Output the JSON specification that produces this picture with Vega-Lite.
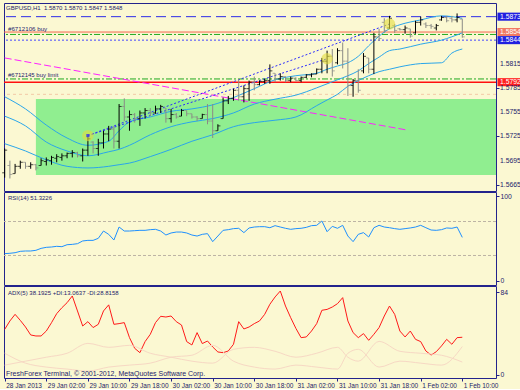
{
"$schema": "https://vega.github.io/schema/vega-lite/v6.json",
"background": "#fbf8d2",
"padding": {"left": 1, "top": 2, "right": 0, "bottom": 0},
"spacing": 1,
"bounds": "flush",
"datasets": {
"one": [{}],
"bars": [
{"t":"2013-01-28T18:00","o":1.5680,"h":1.5710,"l":1.5674,"c":1.5708,"rsi":32.2,"adx":46.2},
{"t":"2013-01-28T19:00","o":1.5689,"h":1.5695,"l":1.5673,"c":1.5678,"rsi":32.6,"adx":54.7},
{"t":"2013-01-28T20:00","o":1.5679,"h":1.5691,"l":1.5679,"c":1.5688,"rsi":33.3,"adx":61.4},
{"t":"2013-01-28T21:00","o":1.5688,"h":1.5695,"l":1.5685,"c":1.5693,"rsi":34.9,"adx":55.3},
{"t":"2013-01-28T22:00","o":1.5693,"h":1.5693,"l":1.5685,"c":1.5688,"rsi":35.3,"adx":48.6},
{"t":"2013-01-28T23:00","o":1.5688,"h":1.5693,"l":1.5685,"c":1.5690,"rsi":35.3,"adx":40.5},
{"t":"2013-01-29T00:00","o":1.5690,"h":1.5691,"l":1.5683,"c":1.5686,"rsi":36.1,"adx":39.5},
{"t":"2013-01-29T01:00","o":1.5689,"h":1.5698,"l":1.5689,"c":1.5695,"rsi":38.4,"adx":39.5},
{"t":"2013-01-29T02:00","o":1.5694,"h":1.5699,"l":1.5689,"c":1.5696,"rsi":39.6,"adx":44.5},
{"t":"2013-01-29T03:00","o":1.5695,"h":1.5701,"l":1.5690,"c":1.5699,"rsi":40.0,"adx":52.9},
{"t":"2013-01-29T04:00","o":1.5698,"h":1.5703,"l":1.5693,"c":1.5700,"rsi":40.8,"adx":62.1},
{"t":"2013-01-29T05:00","o":1.5699,"h":1.5704,"l":1.5695,"c":1.5701,"rsi":40.4,"adx":68.1},
{"t":"2013-01-29T06:00","o":1.5701,"h":1.5705,"l":1.5698,"c":1.5704,"rsi":42.7,"adx":73.2},
{"t":"2013-01-29T07:00","o":1.5704,"h":1.5708,"l":1.5699,"c":1.5705,"rsi":43.1,"adx":80.0},
{"t":"2013-01-29T08:00","o":1.5705,"h":1.5706,"l":1.5699,"c":1.5701,"rsi":43.9,"adx":64.8},
{"t":"2013-01-29T09:00","o":1.5701,"h":1.5710,"l":1.5694,"c":1.5708,"rsi":47.1,"adx":49.6},
{"t":"2013-01-29T10:00","o":1.5708,"h":1.5725,"l":1.5701,"c":1.5722,"rsi":47.8,"adx":54.0},
{"t":"2013-01-29T11:00","o":1.5718,"h":1.5719,"l":1.5704,"c":1.5710,"rsi":47.8,"adx":48.0},
{"t":"2013-01-29T12:00","o":1.5710,"h":1.5722,"l":1.5701,"c":1.5717,"rsi":50.2,"adx":51.3},
{"t":"2013-01-29T13:00","o":1.5717,"h":1.5732,"l":1.5710,"c":1.5728,"rsi":58.8,"adx":64.8},
{"t":"2013-01-29T14:00","o":1.5728,"h":1.5738,"l":1.5719,"c":1.5734,"rsi":54.9,"adx":71.0},
{"t":"2013-01-29T15:00","o":1.5734,"h":1.5738,"l":1.5710,"c":1.5719,"rsi":48.2,"adx":51.3},
{"t":"2013-01-29T16:00","o":1.5719,"h":1.5765,"l":1.5710,"c":1.5762,"rsi":63.5,"adx":52.0},
{"t":"2013-01-29T17:00","o":1.5762,"h":1.5772,"l":1.5744,"c":1.5749,"rsi":58.8,"adx":53.0},
{"t":"2013-01-29T18:00","o":1.5749,"h":1.5757,"l":1.5732,"c":1.5752,"rsi":58.8,"adx":37.8},
{"t":"2013-01-29T19:00","o":1.5752,"h":1.5754,"l":1.5742,"c":1.5747,"rsi":59.2,"adx":27.0},
{"t":"2013-01-29T20:00","o":1.5747,"h":1.5757,"l":1.5738,"c":1.5754,"rsi":59.6,"adx":22.6},
{"t":"2013-01-29T21:00","o":1.5754,"h":1.5760,"l":1.5747,"c":1.5757,"rsi":59.6,"adx":33.8},
{"t":"2013-01-29T22:00","o":1.5757,"h":1.5760,"l":1.5750,"c":1.5754,"rsi":60.4,"adx":41.2},
{"t":"2013-01-29T23:00","o":1.5754,"h":1.5763,"l":1.5753,"c":1.5759,"rsi":60.8,"adx":53.0},
{"t":"2013-01-30T00:00","o":1.5759,"h":1.5764,"l":1.5754,"c":1.5762,"rsi":58.8,"adx":59.4},
{"t":"2013-01-30T01:00","o":1.5760,"h":1.5760,"l":1.5742,"c":1.5747,"rsi":54.1,"adx":58.7},
{"t":"2013-01-30T02:00","o":1.5747,"h":1.5759,"l":1.5742,"c":1.5752,"rsi":56.5,"adx":59.7},
{"t":"2013-01-30T03:00","o":1.5752,"h":1.5754,"l":1.5747,"c":1.5749,"rsi":57.6,"adx":54.0},
{"t":"2013-01-30T04:00","o":1.5750,"h":1.5759,"l":1.5750,"c":1.5757,"rsi":57.6,"adx":50.6},
{"t":"2013-01-30T05:00","o":1.5757,"h":1.5757,"l":1.5750,"c":1.5753,"rsi":56.5,"adx":33.8},
{"t":"2013-01-30T06:00","o":1.5753,"h":1.5753,"l":1.5747,"c":1.5749,"rsi":54.1,"adx":30.4},
{"t":"2013-01-30T07:00","o":1.5749,"h":1.5750,"l":1.5744,"c":1.5747,"rsi":52.9,"adx":42.9},
{"t":"2013-01-30T08:00","o":1.5747,"h":1.5753,"l":1.5747,"c":1.5752,"rsi":54.9,"adx":31.8},
{"t":"2013-01-30T09:00","o":1.5752,"h":1.5765,"l":1.5740,"c":1.5744,"rsi":55.7,"adx":34.4},
{"t":"2013-01-30T10:00","o":1.5744,"h":1.5765,"l":1.5723,"c":1.5732,"rsi":46.3,"adx":28.4},
{"t":"2013-01-30T11:00","o":1.5732,"h":1.5740,"l":1.5732,"c":1.5738,"rsi":52.9,"adx":23.3},
{"t":"2013-01-30T12:00","o":1.5747,"h":1.5773,"l":1.5747,"c":1.5769,"rsi":59.6,"adx":22.6},
{"t":"2013-01-30T13:00","o":1.5769,"h":1.5775,"l":1.5765,"c":1.5772,"rsi":60.4,"adx":24.3},
{"t":"2013-01-30T14:00","o":1.5772,"h":1.5784,"l":1.5769,"c":1.5782,"rsi":61.6,"adx":31.1},
{"t":"2013-01-30T15:00","o":1.5782,"h":1.5796,"l":1.5769,"c":1.5774,"rsi":62.0,"adx":54.0},
{"t":"2013-01-30T16:00","o":1.5774,"h":1.5788,"l":1.5767,"c":1.5784,"rsi":56.9,"adx":46.6},
{"t":"2013-01-30T17:00","o":1.5784,"h":1.5794,"l":1.5769,"c":1.5792,"rsi":62.4,"adx":48.6},
{"t":"2013-01-30T18:00","o":1.5792,"h":1.5799,"l":1.5782,"c":1.5789,"rsi":63.5,"adx":52.0},
{"t":"2013-01-30T19:00","o":1.5789,"h":1.5794,"l":1.5788,"c":1.5793,"rsi":63.9,"adx":54.7},
{"t":"2013-01-30T20:00","o":1.5793,"h":1.5796,"l":1.5790,"c":1.5794,"rsi":63.9,"adx":61.4},
{"t":"2013-01-30T21:00","o":1.5794,"h":1.5814,"l":1.5790,"c":1.5806,"rsi":62.7,"adx":71.6},
{"t":"2013-01-30T22:00","o":1.5803,"h":1.5803,"l":1.5792,"c":1.5796,"rsi":65.1,"adx":79.0},
{"t":"2013-01-30T23:00","o":1.5796,"h":1.5803,"l":1.5794,"c":1.5799,"rsi":63.5,"adx":85.0},
{"t":"2013-01-31T00:00","o":1.5799,"h":1.5799,"l":1.5792,"c":1.5794,"rsi":62.0,"adx":69.8},
{"t":"2013-01-31T01:00","o":1.5794,"h":1.5799,"l":1.5792,"c":1.5797,"rsi":60.8,"adx":58.0},
{"t":"2013-01-31T02:00","o":1.5797,"h":1.5798,"l":1.5793,"c":1.5794,"rsi":61.6,"adx":47.2},
{"t":"2013-01-31T03:00","o":1.5794,"h":1.5799,"l":1.5792,"c":1.5798,"rsi":62.0,"adx":37.8},
{"t":"2013-01-31T04:00","o":1.5798,"h":1.5802,"l":1.5797,"c":1.5801,"rsi":63.1,"adx":38.5},
{"t":"2013-01-31T05:00","o":1.5801,"h":1.5803,"l":1.5798,"c":1.5802,"rsi":65.1,"adx":44.5},
{"t":"2013-01-31T06:00","o":1.5802,"h":1.5809,"l":1.5802,"c":1.5808,"rsi":65.5,"adx":52.0},
{"t":"2013-01-31T07:00","o":1.5808,"h":1.5822,"l":1.5803,"c":1.5818,"rsi":70.6,"adx":65.5},
{"t":"2013-01-31T08:00","o":1.5818,"h":1.5831,"l":1.5803,"c":1.5824,"rsi":58.0,"adx":66.4},
{"t":"2013-01-31T09:00","o":1.5824,"h":1.5833,"l":1.5799,"c":1.5806,"rsi":64.3,"adx":68.8},
{"t":"2013-01-31T10:00","o":1.5816,"h":1.5834,"l":1.5814,"c":1.5831,"rsi":62.0,"adx":72.2},
{"t":"2013-01-31T11:00","o":1.5831,"h":1.5841,"l":1.5809,"c":1.5818,"rsi":65.5,"adx":78.3},
{"t":"2013-01-31T12:00","o":1.5818,"h":1.5834,"l":1.5775,"c":1.5788,"rsi":52.9,"adx":54.7},
{"t":"2013-01-31T13:00","o":1.5788,"h":1.5796,"l":1.5774,"c":1.5794,"rsi":46.3,"adx":42.9},
{"t":"2013-01-31T14:00","o":1.5794,"h":1.5808,"l":1.5779,"c":1.5782,"rsi":54.9,"adx":37.8},
{"t":"2013-01-31T15:00","o":1.5806,"h":1.5828,"l":1.5803,"c":1.5824,"rsi":56.9,"adx":41.9},
{"t":"2013-01-31T16:00","o":1.5822,"h":1.5822,"l":1.5803,"c":1.5808,"rsi":51.8,"adx":35.1},
{"t":"2013-01-31T17:00","o":1.5808,"h":1.5853,"l":1.5802,"c":1.5848,"rsi":62.7,"adx":41.2},
{"t":"2013-01-31T18:00","o":1.5848,"h":1.5858,"l":1.5843,"c":1.5846,"rsi":65.5,"adx":48.0},
{"t":"2013-01-31T19:00","o":1.5866,"h":1.5871,"l":1.5853,"c":1.5856,"rsi":63.5,"adx":59.7},
{"t":"2013-01-31T20:00","o":1.5859,"h":1.5874,"l":1.5858,"c":1.5871,"rsi":62.7,"adx":69.8},
{"t":"2013-01-31T21:00","o":1.5862,"h":1.5864,"l":1.5853,"c":1.5856,"rsi":61.6,"adx":61.4},
{"t":"2013-01-31T22:00","o":1.5858,"h":1.5859,"l":1.5856,"c":1.5857,"rsi":60.8,"adx":44.5},
{"t":"2013-01-31T23:00","o":1.5857,"h":1.5862,"l":1.5852,"c":1.5859,"rsi":61.6,"adx":38.5},
{"t":"2013-02-01T00:00","o":1.5858,"h":1.5858,"l":1.5847,"c":1.5849,"rsi":62.4,"adx":44.5},
{"t":"2013-02-01T01:00","o":1.5853,"h":1.5868,"l":1.5852,"c":1.5866,"rsi":63.5,"adx":36.1},
{"t":"2013-02-01T02:00","o":1.5866,"h":1.5873,"l":1.5862,"c":1.5869,"rsi":65.5,"adx":33.8},
{"t":"2013-02-01T03:00","o":1.5864,"h":1.5866,"l":1.5859,"c":1.5862,"rsi":62.7,"adx":24.3},
{"t":"2013-02-01T04:00","o":1.5862,"h":1.5864,"l":1.5858,"c":1.5861,"rsi":60.0,"adx":20.2},
{"t":"2013-02-01T05:00","o":1.5859,"h":1.5864,"l":1.5856,"c":1.5862,"rsi":59.6,"adx":23.6},
{"t":"2013-02-01T06:00","o":1.5869,"h":1.5874,"l":1.5868,"c":1.5872,"rsi":60.4,"adx":29.4},
{"t":"2013-02-01T07:00","o":1.5872,"h":1.5874,"l":1.5866,"c":1.5868,"rsi":62.4,"adx":36.1},
{"t":"2013-02-01T08:00","o":1.5871,"h":1.5874,"l":1.5866,"c":1.5869,"rsi":62.0,"adx":31.1},
{"t":"2013-02-01T09:00","o":1.5869,"h":1.5877,"l":1.5866,"c":1.5872,"rsi":63.5,"adx":37.8},
{"t":"2013-02-01T10:00","o":1.5870,"h":1.5870,"l":1.5847,"c":1.5848,"rsi":51.3226,"adx":38.1925}
],
"bands": [
{"t":"2013-01-28T18:00","b":"u","p":1.5774},{"t":"2013-01-28T22:00","b":"u","p":1.5759},{"t":"2013-01-29T02:00","b":"u","p":1.5739},{"t":"2013-01-29T06:00","b":"u","p":1.5723},{"t":"2013-01-29T10:00","b":"u","p":1.5714},{"t":"2013-01-29T14:00","b":"u","p":1.5719},{"t":"2013-01-29T16:00","b":"u","p":1.5732},{"t":"2013-01-29T18:00","b":"u","p":1.5743},{"t":"2013-01-29T22:00","b":"u","p":1.5749},{"t":"2013-01-30T02:00","b":"u","p":1.5756},{"t":"2013-01-30T06:00","b":"u","p":1.5759},{"t":"2013-01-30T10:00","b":"u","p":1.5764},{"t":"2013-01-30T14:00","b":"u","p":1.5773},{"t":"2013-01-30T18:00","b":"u","p":1.5784},{"t":"2013-01-30T22:00","b":"u","p":1.5795},{"t":"2013-01-31T02:00","b":"u","p":1.5800},{"t":"2013-01-31T06:00","b":"u","p":1.5803},{"t":"2013-01-31T08:00","b":"u","p":1.5808},{"t":"2013-01-31T10:00","b":"u","p":1.5812},{"t":"2013-01-31T12:00","b":"u","p":1.5816},{"t":"2013-01-31T14:00","b":"u","p":1.5824},{"t":"2013-01-31T16:00","b":"u","p":1.5837},{"t":"2013-01-31T18:00","b":"u","p":1.5849},{"t":"2013-01-31T20:00","b":"u","p":1.5858},{"t":"2013-01-31T22:00","b":"u","p":1.5863},{"t":"2013-02-01T02:00","b":"u","p":1.5869},{"t":"2013-02-01T06:00","b":"u","p":1.5874},{"t":"2013-02-01T10:00","b":"u","p":1.5871},
{"t":"2013-01-28T18:00","b":"m","p":1.5750},{"t":"2013-01-28T22:00","b":"m","p":1.5738},{"t":"2013-01-29T02:00","b":"m","p":1.5718},{"t":"2013-01-29T06:00","b":"m","p":1.5707},{"t":"2013-01-29T10:00","b":"m","p":1.5701},{"t":"2013-01-29T14:00","b":"m","p":1.5706},{"t":"2013-01-29T16:00","b":"m","p":1.5709},{"t":"2013-01-29T18:00","b":"m","p":1.5714},{"t":"2013-01-29T22:00","b":"m","p":1.5727},{"t":"2013-01-30T02:00","b":"m","p":1.5737},{"t":"2013-01-30T06:00","b":"m","p":1.5743},{"t":"2013-01-30T10:00","b":"m","p":1.5747},{"t":"2013-01-30T14:00","b":"m","p":1.5754},{"t":"2013-01-30T18:00","b":"m","p":1.5765},{"t":"2013-01-30T22:00","b":"m","p":1.5771},{"t":"2013-01-31T02:00","b":"m","p":1.5776},{"t":"2013-01-31T06:00","b":"m","p":1.5785},{"t":"2013-01-31T08:00","b":"m","p":1.5790},{"t":"2013-01-31T10:00","b":"m","p":1.5795},{"t":"2013-01-31T12:00","b":"m","p":1.5800},{"t":"2013-01-31T14:00","b":"m","p":1.5806},{"t":"2013-01-31T16:00","b":"m","p":1.5815},{"t":"2013-01-31T18:00","b":"m","p":1.5823},{"t":"2013-01-31T20:00","b":"m","p":1.5831},{"t":"2013-01-31T22:00","b":"m","p":1.5833},{"t":"2013-02-01T02:00","b":"m","p":1.5839},{"t":"2013-02-01T06:00","b":"m","p":1.5844},{"t":"2013-02-01T10:00","b":"m","p":1.5853},
{"t":"2013-01-28T18:00","b":"l","p":1.5716},{"t":"2013-01-28T22:00","b":"l","p":1.5707},{"t":"2013-01-29T02:00","b":"l","p":1.5696},{"t":"2013-01-29T06:00","b":"l","p":1.5688},{"t":"2013-01-29T10:00","b":"l","p":1.5686},{"t":"2013-01-29T14:00","b":"l","p":1.5688},{"t":"2013-01-29T16:00","b":"l","p":1.5690},{"t":"2013-01-29T18:00","b":"l","p":1.5692},{"t":"2013-01-29T22:00","b":"l","p":1.5700},{"t":"2013-01-30T02:00","b":"l","p":1.5709},{"t":"2013-01-30T06:00","b":"l","p":1.5719},{"t":"2013-01-30T10:00","b":"l","p":1.5727},{"t":"2013-01-30T14:00","b":"l","p":1.5737},{"t":"2013-01-30T18:00","b":"l","p":1.5742},{"t":"2013-01-30T22:00","b":"l","p":1.5745},{"t":"2013-01-31T02:00","b":"l","p":1.5749},{"t":"2013-01-31T06:00","b":"l","p":1.5763},{"t":"2013-01-31T08:00","b":"l","p":1.5770},{"t":"2013-01-31T10:00","b":"l","p":1.5777},{"t":"2013-01-31T12:00","b":"l","p":1.5787},{"t":"2013-01-31T14:00","b":"l","p":1.5794},{"t":"2013-01-31T16:00","b":"l","p":1.5800},{"t":"2013-01-31T18:00","b":"l","p":1.5805},{"t":"2013-01-31T20:00","b":"l","p":1.5808},{"t":"2013-01-31T22:00","b":"l","p":1.5811},{"t":"2013-02-01T02:00","b":"l","p":1.5815},{"t":"2013-02-01T06:00","b":"l","p":1.5816},{"t":"2013-02-01T08:00","b":"l","p":1.5828},{"t":"2013-02-01T10:00","b":"l","p":1.5833}
],
"di": [
{"t":"2013-01-28T18:00","k":"m","v":22},{"t":"2013-01-28T22:00","k":"m","v":12},{"t":"2013-01-29T02:00","k":"m","v":8},{"t":"2013-01-29T06:00","k":"m","v":6},{"t":"2013-01-29T10:00","k":"m","v":4},{"t":"2013-01-29T14:00","k":"m","v":8},{"t":"2013-01-29T18:00","k":"m","v":10},{"t":"2013-01-29T22:00","k":"m","v":12},{"t":"2013-01-30T02:00","k":"m","v":18},{"t":"2013-01-30T06:00","k":"m","v":20},{"t":"2013-01-30T10:00","k":"m","v":30},{"t":"2013-01-30T14:00","k":"m","v":14},{"t":"2013-01-30T18:00","k":"m","v":8},{"t":"2013-01-30T22:00","k":"m","v":6},{"t":"2013-01-31T02:00","k":"m","v":10},{"t":"2013-01-31T06:00","k":"m","v":8},{"t":"2013-01-31T10:00","k":"m","v":6},{"t":"2013-01-31T12:00","k":"m","v":22},{"t":"2013-01-31T14:00","k":"m","v":26},{"t":"2013-01-31T18:00","k":"m","v":8},{"t":"2013-01-31T22:00","k":"m","v":14},{"t":"2013-02-01T02:00","k":"m","v":12},{"t":"2013-02-01T06:00","k":"m","v":10},{"t":"2013-02-01T10:00","k":"m","v":28.8},
{"t":"2013-01-28T18:00","k":"p","v":10},{"t":"2013-01-28T22:00","k":"p","v":14},{"t":"2013-01-29T02:00","k":"p","v":18},{"t":"2013-01-29T06:00","k":"p","v":22},{"t":"2013-01-29T10:00","k":"p","v":32},{"t":"2013-01-29T14:00","k":"p","v":28},{"t":"2013-01-29T18:00","k":"p","v":30},{"t":"2013-01-29T22:00","k":"p","v":22},{"t":"2013-01-30T02:00","k":"p","v":18},{"t":"2013-01-30T06:00","k":"p","v":14},{"t":"2013-01-30T10:00","k":"p","v":12},{"t":"2013-01-30T14:00","k":"p","v":26},{"t":"2013-01-30T18:00","k":"p","v":28},{"t":"2013-01-30T22:00","k":"p","v":24},{"t":"2013-01-31T02:00","k":"p","v":18},{"t":"2013-01-31T06:00","k":"p","v":22},{"t":"2013-01-31T10:00","k":"p","v":28},{"t":"2013-01-31T12:00","k":"p","v":18},{"t":"2013-01-31T14:00","k":"p","v":14},{"t":"2013-01-31T18:00","k":"p","v":34},{"t":"2013-01-31T22:00","k":"p","v":24},{"t":"2013-02-01T02:00","k":"p","v":22},{"t":"2013-02-01T06:00","k":"p","v":20},{"t":"2013-02-01T10:00","k":"p","v":13.1}
],
"channel": [
{"t":"2013-01-29T10:00","k":"a","p":1.5726},{"t":"2013-01-31T08:00","k":"a","p":1.5821},
{"t":"2013-01-29T10:00","k":"b","p":1.5726},{"t":"2013-01-31T20:00","k":"b","p":1.5864}
],
"markers": [
{"t":"2013-01-29T10:00","p":1.5726},{"t":"2013-01-31T08:00","p":1.5821},{"t":"2013-01-31T20:00","p":1.5864}
],
"trend": [
{"t":"2013-01-28T18:00","p":1.5822},{"t":"2013-01-31T23:15","p":1.5733}
],
"boxes": [
{"lo":1.5868,"hi":1.5878,"k":"b"},{"lo":1.5849,"hi":1.5859,"k":"s"},{"lo":1.5839,"hi":1.5849,"k":"b"},{"lo":1.5787,"hi":1.5797,"k":"r"}
],
"prices": [
{"p":1.5873,"w":1},{"p":1.5854,"w":1},{"p":1.5844,"w":1},{"p":1.5815,"w":0},{"p":1.5792,"w":1},{"p":1.5785,"w":0},{"p":1.5755,"w":0},{"p":1.5725,"w":0},{"p":1.5695,"w":0},{"p":1.5665,"w":0}
]
},
"vconcat": [
{
"width": 492, "height": 188,
"layer": [
{"data": {"values": [{"start":"2013-01-29T00:00","end":"2013-02-01T16:29","lo":1.56773,"hi":1.57713}]},
 "mark": {"type":"rect","color":"#90ee90","clip":true},
 "encoding": {
  "x": {"field":"start","type":"temporal","scale":{"domain":[{"year":2013,"month":1,"date":28,"hours":17,"minutes":52},{"year":2013,"month":2,"date":1,"hours":16,"minutes":29}]},"axis":null},
  "x2": {"field":"end"},
  "y": {"field":"lo","type":"quantitative","scale":{"domain":[1.56575,1.58899],"nice":false,"zero":false},
        "axis":{"orient":"right","title":null,"values":[1.5665,1.5695,1.5725,1.5755,1.5785,1.5815],"labels":false,"tickSize":3,"tickColor":"#23238c","domain":false,"grid":false}},
  "y2": {"field":"hi"}
 }},
{"data": {"name":"one"},
 "mark": {"type":"rule","color":"#f2c9a6","strokeDash":[3,3],"strokeWidth":1},
 "encoding": {"y": {"datum":1.5777,"type":"quantitative","scale":{"domain":[1.56575,1.58899],"nice":false,"zero":false}}}},
{"data": {"name":"one"},
 "mark": {"type":"rule","color":"#2c2ce8","strokeDash":[10,5],"strokeWidth":1},
 "encoding": {"y": {"datum":1.5873,"type":"quantitative","scale":{"domain":[1.56575,1.58899],"nice":false,"zero":false}}}},
{"data": {"name":"one"},
 "mark": {"type":"rule","color":"#22aa22","strokeDash":[6,2,2,2],"strokeWidth":1},
 "encoding": {"y": {"datum":1.5851,"type":"quantitative","scale":{"domain":[1.56575,1.58899],"nice":false,"zero":false}}}},
{"data": {"name":"one"},
 "mark": {"type":"rule","color":"#22aa22","strokeDash":[6,2,2,2],"strokeWidth":1},
 "encoding": {"y": {"datum":1.5796,"type":"quantitative","scale":{"domain":[1.56575,1.58899],"nice":false,"zero":false}}}},
{"data": {"name":"one"},
 "mark": {"type":"rule","color":"#f26650","strokeWidth":1},
 "encoding": {"y": {"datum":1.5854,"type":"quantitative","scale":{"domain":[1.56575,1.58899],"nice":false,"zero":false}}}},
{"data": {"name":"one"},
 "mark": {"type":"rule","color":"#ff1010","strokeWidth":1.5},
 "encoding": {"y": {"datum":1.5792,"type":"quantitative","scale":{"domain":[1.56575,1.58899],"nice":false,"zero":false}}}},
{"data": {"name":"one"},
 "mark": {"type":"rule","color":"#4444ff","strokeDash":[2,2],"strokeWidth":1},
 "encoding": {"y": {"datum":1.5844,"type":"quantitative","scale":{"domain":[1.56575,1.58899],"nice":false,"zero":false}}}},
{"data": {"name":"trend"},
 "mark": {"type":"line","color":"#ff22ff","strokeDash":[7,3],"strokeWidth":1,"clip":true},
 "encoding": {
  "x": {"field":"t","type":"temporal","scale":{"domain":[{"year":2013,"month":1,"date":28,"hours":17,"minutes":52},{"year":2013,"month":2,"date":1,"hours":16,"minutes":29}]}},
  "y": {"field":"p","type":"quantitative","title":null,"scale":{"domain":[1.56575,1.58899],"nice":false,"zero":false}}}},
{"data": {"name":"bands"},
 "mark": {"type":"line","color":"#2aa6ea","strokeWidth":1,"interpolate":"monotone","clip":true},
 "encoding": {
  "x": {"field":"t","type":"temporal","scale":{"domain":[{"year":2013,"month":1,"date":28,"hours":17,"minutes":52},{"year":2013,"month":2,"date":1,"hours":16,"minutes":29}]}},
  "y": {"field":"p","type":"quantitative","title":null,"scale":{"domain":[1.56575,1.58899],"nice":false,"zero":false}},
  "detail": {"field":"b"}}},
{"data": {"name":"channel"},
 "mark": {"type":"line","color":"#2a2aff","strokeDash":[2,2],"strokeWidth":1},
 "encoding": {
  "x": {"field":"t","type":"temporal","scale":{"domain":[{"year":2013,"month":1,"date":28,"hours":17,"minutes":52},{"year":2013,"month":2,"date":1,"hours":16,"minutes":29}]}},
  "y": {"field":"p","type":"quantitative","title":null,"scale":{"domain":[1.56575,1.58899],"nice":false,"zero":false}},
  "detail": {"field":"k"}}},
{"data": {"name":"bars"},
 "mark": {"type":"rule","strokeWidth":1},
 "encoding": {
  "x": {"field":"t","type":"temporal","scale":{"domain":[{"year":2013,"month":1,"date":28,"hours":17,"minutes":52},{"year":2013,"month":2,"date":1,"hours":16,"minutes":29}]}},
  "y": {"field":"l","type":"quantitative","title":null,"scale":{"domain":[1.56575,1.58899],"nice":false,"zero":false}},
  "y2": {"field":"h"},
  "color": {"condition":{"test":"datum.c >= datum.o","value":"#000000"},"value":"#8a8a86"}}},
{"data": {"name":"bars"},
 "mark": {"type":"tick","orient":"horizontal","size":2.5,"thickness":1,"xOffset":-1.25},
 "encoding": {
  "x": {"field":"t","type":"temporal","scale":{"domain":[{"year":2013,"month":1,"date":28,"hours":17,"minutes":52},{"year":2013,"month":2,"date":1,"hours":16,"minutes":29}]}},
  "y": {"field":"o","type":"quantitative","title":null,"scale":{"domain":[1.56575,1.58899],"nice":false,"zero":false}},
  "color": {"condition":{"test":"datum.c >= datum.o","value":"#000000"},"value":"#8a8a86"}}},
{"data": {"name":"bars"},
 "mark": {"type":"tick","orient":"horizontal","size":2.5,"thickness":1,"xOffset":1.25},
 "encoding": {
  "x": {"field":"t","type":"temporal","scale":{"domain":[{"year":2013,"month":1,"date":28,"hours":17,"minutes":52},{"year":2013,"month":2,"date":1,"hours":16,"minutes":29}]}},
  "y": {"field":"c","type":"quantitative","title":null,"scale":{"domain":[1.56575,1.58899],"nice":false,"zero":false}},
  "color": {"condition":{"test":"datum.c >= datum.o","value":"#000000"},"value":"#8a8a86"}}},
{"data": {"name":"markers"},
 "mark": {"type":"point","filled":true,"color":"#e4dc3c","opacity":0.6,"size":130},
 "encoding": {
  "x": {"field":"t","type":"temporal","scale":{"domain":[{"year":2013,"month":1,"date":28,"hours":17,"minutes":52},{"year":2013,"month":2,"date":1,"hours":16,"minutes":29}]}},
  "y": {"field":"p","type":"quantitative","title":null,"scale":{"domain":[1.56575,1.58899],"nice":false,"zero":false}}}},
{"data": {"name":"one"},
 "mark": {"type":"square","filled":true,"color":"#1a1aff","size":10},
 "encoding": {
  "x": {"datum":{"year":2013,"month":1,"date":29,"hours":10},"type":"temporal","scale":{"domain":[{"year":2013,"month":1,"date":28,"hours":17,"minutes":52},{"year":2013,"month":2,"date":1,"hours":16,"minutes":29}]}},
  "y": {"datum":1.5726,"type":"quantitative","scale":{"domain":[1.56575,1.58899],"nice":false,"zero":false}}}},
{"data": {"name":"one"},
 "mark": {"type":"text","align":"left","baseline":"alphabetic","font":"Liberation Sans","fontSize":6,"color":"#1c1c6c"},
 "encoding": {
  "x": {"datum":{"year":2013,"month":1,"date":28,"hours":18,"minutes":15},"type":"temporal","scale":{"domain":[{"year":2013,"month":1,"date":28,"hours":17,"minutes":52},{"year":2013,"month":2,"date":1,"hours":16,"minutes":29}]}},
  "y": {"datum":1.5881,"type":"quantitative","scale":{"domain":[1.56575,1.58899],"nice":false,"zero":false}},
  "text": {"value":"GBPUSD,H1\u00a0 1.5870 1.5870 1.5847 1.5848"}}},
{"data": {"name":"one"},
 "mark": {"type":"text","align":"left","baseline":"alphabetic","font":"Liberation Sans","fontSize":6.2,"color":"#1c1c6c"},
 "encoding": {
  "x": {"datum":{"year":2013,"month":1,"date":28,"hours":18,"minutes":38},"type":"temporal","scale":{"domain":[{"year":2013,"month":1,"date":28,"hours":17,"minutes":52},{"year":2013,"month":2,"date":1,"hours":16,"minutes":29}]}},
  "y": {"datum":1.5855,"type":"quantitative","scale":{"domain":[1.56575,1.58899],"nice":false,"zero":false}},
  "text": {"value":"#6712106 buy"}}},
{"data": {"name":"one"},
 "mark": {"type":"text","align":"left","baseline":"alphabetic","font":"Liberation Sans","fontSize":6,"color":"#1c1c6c"},
 "encoding": {
  "x": {"datum":{"year":2013,"month":1,"date":28,"hours":18,"minutes":38},"type":"temporal","scale":{"domain":[{"year":2013,"month":1,"date":28,"hours":17,"minutes":52},{"year":2013,"month":2,"date":1,"hours":16,"minutes":29}]}},
  "y": {"datum":1.5799,"type":"quantitative","scale":{"domain":[1.56575,1.58899],"nice":false,"zero":false}},
  "text": {"value":"#6712145 buy limit"}}},
{"data": {"name":"boxes"},
 "mark": {"type":"rect"},
 "encoding": {
  "x": {"datum":{"year":2013,"month":2,"date":1,"hours":16,"minutes":46},"type":"temporal","scale":{"domain":[{"year":2013,"month":1,"date":28,"hours":17,"minutes":52},{"year":2013,"month":2,"date":1,"hours":16,"minutes":29}]}},
  "x2": {"datum":{"year":2013,"month":2,"date":1,"hours":21,"minutes":23}},
  "y": {"field":"lo","type":"quantitative","title":null,"scale":{"domain":[1.56575,1.58899],"nice":false,"zero":false}},
  "y2": {"field":"hi"},
  "color": {"field":"k","type":"nominal","scale":{"domain":["b","s","r"],"range":["#2020e0","#f27a62","#ff2020"]},"legend":null}}},
{"data": {"name":"prices"},
 "mark": {"type":"text","align":"left","baseline":"middle","font":"Liberation Sans","fontSize":6.8},
 "encoding": {
  "x": {"datum":{"year":2013,"month":2,"date":1,"hours":17,"minutes":15},"type":"temporal","scale":{"domain":[{"year":2013,"month":1,"date":28,"hours":17,"minutes":52},{"year":2013,"month":2,"date":1,"hours":16,"minutes":29}]}},
  "y": {"field":"p","type":"quantitative","title":null,"scale":{"domain":[1.56575,1.58899],"nice":false,"zero":false}},
  "text": {"field":"p","type":"quantitative","format":".4f"},
  "color": {"condition":{"test":"datum.w == 1","value":"#ffffff"},"value":"#1c1c6c"}}}
]
},
{
"width": 492, "height": 93,
"layer": [
{"data": {"name":"bars"},
 "mark": {"type":"line","color":"#1e90ff","strokeWidth":1},
 "encoding": {
  "x": {"field":"t","type":"temporal","axis":null,"scale":{"domain":[{"year":2013,"month":1,"date":28,"hours":17,"minutes":52},{"year":2013,"month":2,"date":1,"hours":16,"minutes":29}]}},
  "y": {"field":"rsi","type":"quantitative","scale":{"domain":[-4.706,104.706],"nice":false,"zero":false},
        "axis":{"orient":"right","title":null,"values":[0,30,70,100],"labelFont":"Liberation Sans","labelFontSize":6.8,"labelColor":"#1c1c6c","tickSize":3,"tickColor":"#23238c","labelPadding":1,"domain":false,"grid":false,"labelBound":false,"labelFlush":false,"labelOverlap":false}}}},
{"data": {"name":"one"},
 "mark": {"type":"rule","color":"#bdb4a4","strokeDash":[3,2],"strokeWidth":1},
 "encoding": {"y": {"datum":70,"type":"quantitative","scale":{"domain":[-4.706,104.706],"nice":false,"zero":false}}}},
{"data": {"name":"one"},
 "mark": {"type":"rule","color":"#bdb4a4","strokeDash":[3,2],"strokeWidth":1},
 "encoding": {"y": {"datum":30,"type":"quantitative","scale":{"domain":[-4.706,104.706],"nice":false,"zero":false}}}},
{"data": {"name":"one"},
 "mark": {"type":"text","align":"left","baseline":"alphabetic","font":"Liberation Sans","fontSize":6,"color":"#1c1c6c"},
 "encoding": {
  "x": {"datum":{"year":2013,"month":1,"date":28,"hours":18,"minutes":38},"type":"temporal","scale":{"domain":[{"year":2013,"month":1,"date":28,"hours":17,"minutes":52},{"year":2013,"month":2,"date":1,"hours":16,"minutes":29}]}},
  "y": {"datum":95,"type":"quantitative","scale":{"domain":[-4.706,104.706],"nice":false,"zero":false}},
  "text": {"value":"RSI(14) 51.3226"}}}
]
},
{
"width": 492, "height": 92,
"layer": [
{"data": {"name":"bars"},
 "mark": {"type":"line","color":"#ff1a1a","strokeWidth":1},
 "encoding": {
  "x": {"field":"t","type":"temporal","scale":{"domain":[{"year":2013,"month":1,"date":28,"hours":17,"minutes":52},{"year":2013,"month":2,"date":1,"hours":16,"minutes":29}]},
        "axis":{"orient":"bottom","title":null,"values":[{"year":2013,"month":1,"date":28,"hours":18},{"year":2013,"month":1,"date":29,"hours":2},{"year":2013,"month":1,"date":29,"hours":10},{"year":2013,"month":1,"date":29,"hours":18},{"year":2013,"month":1,"date":30,"hours":2},{"year":2013,"month":1,"date":30,"hours":10},{"year":2013,"month":1,"date":30,"hours":18},{"year":2013,"month":1,"date":31,"hours":2},{"year":2013,"month":1,"date":31,"hours":10},{"year":2013,"month":1,"date":31,"hours":18},{"year":2013,"month":2,"date":1,"hours":2},{"year":2013,"month":2,"date":1,"hours":10}],
                "labelExpr":"timeFormat(datum.value,'%d%H') == '2818' ? '28 Jan 2013' : timeFormat(datum.value,'%-d %b %H:%M')",
                "labelAlign":"left","labelBaseline":"top","labelOffset":1,"labelPadding":1,"tickSize":3,"tickColor":"#23238c","labelFont":"Liberation Sans","labelFontSize":6.5,"labelColor":"#1c1c6c","domain":false,"grid":false,"labelOverlap":false,"labelFlush":false,"labelBound":false}},
  "y": {"field":"adx","type":"quantitative","scale":{"domain":[-3.04,90.08],"nice":false,"zero":false},
        "axis":{"orient":"right","title":null,"values":[0,84],"labelFont":"Liberation Sans","labelFontSize":6.8,"labelColor":"#1c1c6c","tickSize":3,"tickColor":"#23238c","labelPadding":1,"domain":false,"grid":false,"labelBound":false,"labelFlush":false,"labelOverlap":false}}}},
{"data": {"name":"di"},
 "mark": {"type":"line","color":"#f7d8c4","strokeWidth":1,"interpolate":"monotone"},
 "encoding": {
  "x": {"field":"t","type":"temporal","scale":{"domain":[{"year":2013,"month":1,"date":28,"hours":17,"minutes":52},{"year":2013,"month":2,"date":1,"hours":16,"minutes":29}]}},
  "y": {"field":"v","type":"quantitative","title":null,"scale":{"domain":[-3.04,90.08],"nice":false,"zero":false}},
  "detail": {"field":"k"}}},
{"data": {"name":"one"},
 "mark": {"type":"text","align":"left","baseline":"alphabetic","font":"Liberation Sans","fontSize":6,"color":"#1c1c6c"},
 "encoding": {
  "x": {"datum":{"year":2013,"month":1,"date":28,"hours":18,"minutes":38},"type":"temporal","scale":{"domain":[{"year":2013,"month":1,"date":28,"hours":17,"minutes":52},{"year":2013,"month":2,"date":1,"hours":16,"minutes":29}]}},
  "y": {"datum":81,"type":"quantitative","scale":{"domain":[-3.04,90.08],"nice":false,"zero":false}},
  "text": {"value":"ADX(5) 38.1925 +DI:13.0637 -DI:28.8158"}}},
{"data": {"name":"one"},
 "mark": {"type":"text","align":"left","baseline":"alphabetic","font":"Liberation Sans","fontSize":7,"color":"#1c1c6c"},
 "encoding": {
  "x": {"datum":{"year":2013,"month":1,"date":28,"hours":18,"minutes":15},"type":"temporal","scale":{"domain":[{"year":2013,"month":1,"date":28,"hours":17,"minutes":52},{"year":2013,"month":2,"date":1,"hours":16,"minutes":29}]}},
  "y": {"datum":-1,"type":"quantitative","scale":{"domain":[-3.04,90.08],"nice":false,"zero":false}},
  "text": {"value":"FreshForex Terminal, © 2001-2012, MetaQuotes Software Corp."}}}
]
}
],
"config": {
"view": {"stroke": "#23238c", "strokeWidth": 1},
"axis": {"domain": false, "grid": false}
}
}
